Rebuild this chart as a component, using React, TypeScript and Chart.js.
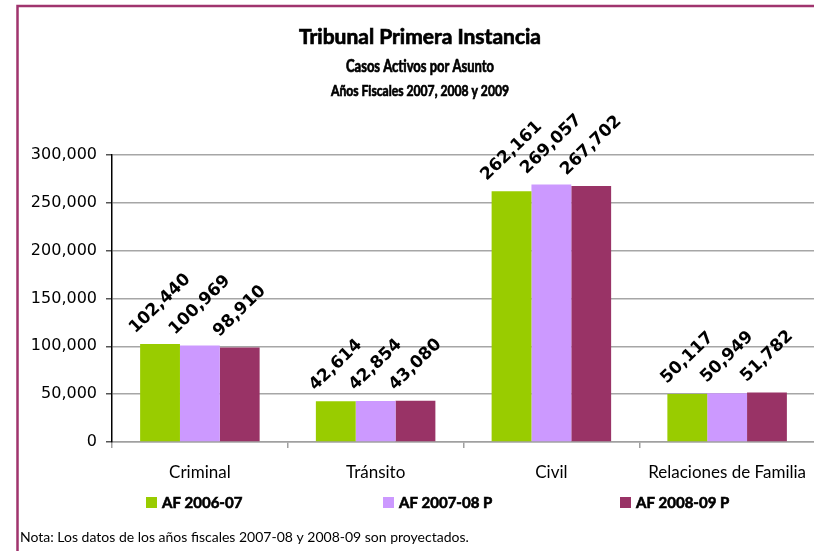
import React, { useEffect, useRef } from 'react';
import { Chart, registerables } from 'chart.js';

Chart.register(...registerables);

const categories = ['Criminal', 'Tránsito', 'Civil', 'Relaciones de Familia'];
const seriesNames = ['AF 2006-07', 'AF 2007-08 P', 'AF 2008-09 P'];
const af200607 = [102440, 42614, 262161, 50117];
const af200708 = [100969, 42854, 269057, 50949];
const af200809 = [98910, 43080, 267702, 51782];
const seriesColors = ['#99cc00', '#cc99ff', '#993366'];
const yMin = 0;
const yMax = 300000;
const yStep = 50000;
const titleLines = [
  'Tribunal Primera Instancia',
  'Casos Activos por Asunto',
  'Años Fiscales 2007, 2008 y 2009',
];
const noteText = 'Nota: Los datos de los años fiscales 2007-08 y 2008-09 son proyectados.';

const W = 830;
const H = 551;
const fmt = (v: number) => Number(v).toLocaleString('en-US');

const titleStyles = [
  { size: 20, y: 44, width: 242 },
  { size: 16.5, y: 72, width: 148 },
  { size: 15, y: 96, width: 178 },
];

const framePlugin = {
  id: 'frame',
  beforeDraw(chart: any) {
    const ctx = chart.ctx;
    ctx.save();
    ctx.fillStyle = '#ffffff';
    ctx.fillRect(0, 0, chart.width, chart.height);
    ctx.strokeStyle = '#a0346e';
    ctx.lineWidth = 2.5;
    ctx.beginPath();
    ctx.moveTo(17.5, H + 5);
    ctx.lineTo(17.5, 6);
    ctx.lineTo(chart.width + 5, 6);
    ctx.stroke();
    ctx.restore();
  },
};

const titlePlugin = {
  id: 'titles',
  afterDraw(chart: any) {
    const ctx = chart.ctx;
    const cx = 420;
    titleLines.forEach((line, i) => {
      const st = titleStyles[i];
      ctx.save();
      ctx.fillStyle = '#000';
      ctx.strokeStyle = '#000';
      ctx.lineWidth = 0.7;
      ctx.textAlign = 'center';
      ctx.textBaseline = 'alphabetic';
      ctx.font = `bold ${st.size}px Lato`;
      const natural = ctx.measureText(line).width;
      const sx = st.width / natural;
      ctx.translate(cx, st.y);
      ctx.scale(sx, 1);
      ctx.fillText(line, 0, 0);
      ctx.strokeText(line, 0, 0);
      ctx.restore();
    });
  },
};

const dataLabelPlugin = {
  id: 'dataLabels',
  afterDatasetsDraw(chart: any) {
    const ctx = chart.ctx;
    const angle = (-44 * Math.PI) / 180;
    ctx.save();
    ctx.font = "bold 17px 'DejaVu Sans'";
    ctx.fillStyle = '#000';
    ctx.textAlign = 'center';
    ctx.textBaseline = 'middle';
    chart.data.datasets.forEach((ds: any, di: number) => {
      const meta = chart.getDatasetMeta(di);
      meta.data.forEach((el: any, i: number) => {
        const text = fmt(ds.data[i]);
        const w = ctx.measureText(text).width;
        const h = 12;
        const hh = (w / 2) * Math.abs(Math.sin(angle)) + (h / 2) * Math.cos(angle);
        const cy = el.y - 9 - hh;
        ctx.save();
        ctx.translate(el.x, cy);
        ctx.rotate(angle);
        ctx.fillText(text, 0, 0);
        ctx.restore();
      });
    });
    ctx.restore();
  },
};

const legendPlugin = {
  id: 'customLegend',
  afterDraw(chart: any) {
    const ctx = chart.ctx;
    const area = chart.chartArea;
    ctx.save();
    ctx.font = "bold 15px Lato";
    ctx.textBaseline = 'middle';
    ctx.textAlign = 'left';
    ctx.strokeStyle = '#000';
    ctx.lineWidth = 0.6;
    chart.data.datasets.forEach((ds: any, i: number) => {
      const x = area.left + 34 + i * 237;
      const y = 502.5;
      ctx.fillStyle = ds.backgroundColor;
      ctx.fillRect(x, y - 5.5, 11, 11);
      ctx.fillStyle = '#000';
      ctx.fillText(ds.label, x + 16, y + 0.5);
      ctx.strokeText(ds.label, x + 16, y + 0.5);
    });
    ctx.font = '14px Lato';
    ctx.fillText(noteText, 20, 537);
    ctx.restore();
  },
};

export default function App() {
  const ref = useRef<HTMLCanvasElement | null>(null);
  useEffect(() => {
    if (!ref.current) return;
    const chart = new Chart(ref.current, {
      type: 'bar',
      data: {
        labels: categories,
        datasets: [
          { label: seriesNames[0], data: af200607, backgroundColor: seriesColors[0] },
          { label: seriesNames[1], data: af200708, backgroundColor: seriesColors[1] },
          { label: seriesNames[2], data: af200809, backgroundColor: seriesColors[2] },
        ],
      },
      options: {
        responsive: false,
        animation: false,
        devicePixelRatio: 1,
        datasets: {
          bar: { categoryPercentage: 0.68, barPercentage: 1 },
        },
        layout: { padding: { top: 155, right: 15, bottom: 59, left: 0 } },
        plugins: {
          legend: { display: false },
          title: { display: false },
          tooltip: { enabled: false },
        },
        scales: {
          x: {
            grid: { drawOnChartArea: false, tickLength: 6, color: '#a0a0a0', lineWidth: 1.5, offset: true },
            border: { color: '#a0a0a0', width: 1.5 },
            ticks: { font: { family: 'Lato', size: 17 }, color: '#000', padding: 14, maxRotation: 0, autoSkip: false },
            afterFit: (s: any) => { s.height = 50; },
          },
          y: {
            min: yMin,
            max: yMax,
            ticks: {
              stepSize: yStep,
              font: { family: "'DejaVu Sans'", size: 16 },
              color: '#000',
              padding: 9,
              callback: (v: any) => fmt(v),
            },
            grid: { color: '#a6a6a6', tickLength: 6, tickColor: '#555', lineWidth: 1.5 },
            border: { color: '#000', width: 1.5 },
            afterFit: (s: any) => { s.width = 112; },
          },
        },
      },
      plugins: [framePlugin, titlePlugin, dataLabelPlugin, legendPlugin],
    } as any);
    return () => chart.destroy();
  }, []);
  return (
    <div style={{ position: 'fixed', left: 0, top: 0, width: 814, height: 551, overflow: 'hidden', background: '#fff' }}>
      <canvas ref={ref} width={W} height={H} style={{ width: W, height: H, display: 'block' }} />
    </div>
  );
}
